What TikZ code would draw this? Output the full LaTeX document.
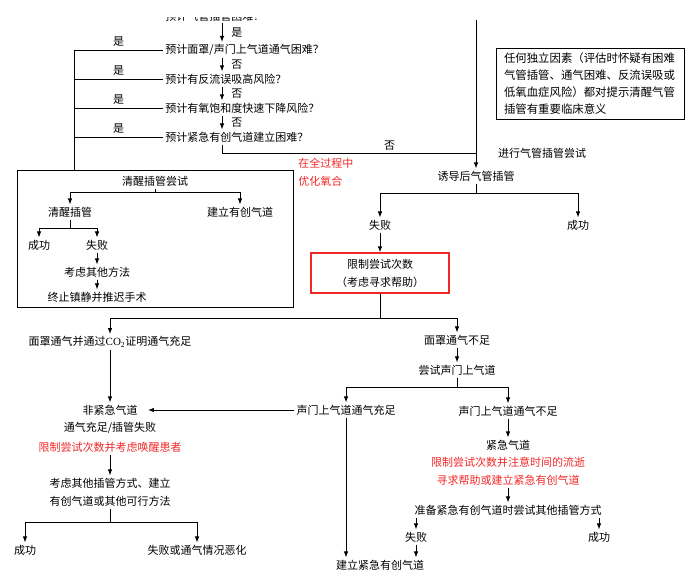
\documentclass[tikz,border=0pt]{standalone}
\usepackage{fontspec}
\setmainfont{Noto Sans CJK SC}
\newfontfamily\latinfont{Liberation Serif}
\usetikzlibrary{arrows.meta}
\definecolor{warnred}{RGB}{240,40,40}

\begin{document}
\begin{tikzpicture}[x=1pt,y=-1pt,line width=0.9pt,
		font=\fontsize{11}{18}\selectfont,
		every node/.style={inner sep=2pt},
		arr/.style={-{Latex[length=6pt,width=4.5pt]}},
		lbl/.style={right=7pt},
		redtxt/.style={text=warnred,align=center}]
		%%%%% START %%%%%
		\useasboundingbox (0,0) rectangle (700,576);
		\coordinate (a) at (222,0);
		\coordinate (L) at (74,0);
		\coordinate (T) at (476,0);
		
		\begin{scope}
			\clip (0,17) rectangle (700,576);
			\node[anchor=base west] (q0) at (163,20) {预计气管插管困难？};
		\end{scope}
		\node[anchor=west] (q1) at (163,50) {预计面罩/声门上气道通气困难？};
		\node[anchor=west] (q2) at (163,79) {预计有反流误吸高风险？};
		\node[anchor=west] (q3) at (163,108) {预计有氧饱和度快速下降风险？};
		\node[anchor=west] (q4) at (163,137) {预计紧急有创气道建立困难？};
		
		\draw[arr] (q0.south -| a) -- node[lbl]{是} (q1.north -| a);
		\draw[arr] (q1.south -| a) -- node[lbl]{否} (q2.north -| a);
		\draw[arr] (q2.south -| a) -- node[lbl]{否} (q3.north -| a);
		\draw[arr] (q3.south -| a) -- node[lbl]{否} (q4.north -| a);
		
		\draw (q1.west) -- node[above=1pt]{是} (q1.west -| L);
		\draw (q2.west) -- node[above=1pt]{是} (q2.west -| L);
		\draw (q3.west) -- node[above=1pt]{是} (q3.west -| L);
		\draw (q4.west) -- node[above=1pt]{是} (q4.west -| L);
		
		\node[draw,align=left,text width=172pt,inner xsep=8pt,inner ysep=5pt,
			font=\fontsize{11.4}{17}\selectfont] (note) at (590,84)
			{任何独立因素（评估时怀疑有困难\\气管插管、通气困难、反流误吸或\\低氧血症风险）都对提示清醒气管\\插管有重要临床意义};
		
		% awake branch
		\node[draw,minimum width=276pt,minimum height=137pt] (awb) at (155,238.5) {};
		\draw (q1.west -| L) -- (awb.north -| L);
		\node (aw) at (155,181) {清醒插管尝试};
		\node (ai) at (70,212) {清醒插管};
		\node (inv) at (240,212) {建立有创气道};
		\node (s1) at (39,245) {成功};
		\node (f1) at (97,245) {失败};
		\node (other) at (97,272) {考虑其他方法};
		\node (stop) at (97,297) {终止镇静并推迟手术};
		\draw (aw.south) -- (aw.south |- 0,192);
		\draw[arr] (aw.south |- 0,192) -| (ai.north);
		\draw[arr] (aw.south |- 0,192) -| (inv.north);
		\draw (ai.south) -- (ai.south |- 0,228);
		\draw[arr] (ai.south |- 0,228) -| (s1.north);
		\draw[arr] (ai.south |- 0,228) -| (f1.north);
		\draw[arr] (f1) -- (other);
		\draw[arr] (other) -- (stop);
		
		% induction branch
		\node (ind) at (476,176) {诱导后气管插管};
		\node (tryl) at (542,153) {进行气管插管尝试};
		\node[redtxt,align=left,anchor=west] (opt) at (296,172) {在全过程中\\优化氧合};
		\draw (q4.south -| a) |- node[pos=0.83,above]{否} (T |- 0,153);
		\draw[arr] (T |- 0,20) -- (ind.north);
		\node (fail1) at (380,225) {失败};
		\node (succ1) at (578,225) {成功};
		\draw (ind.south) -- (ind.south |- 0,193);
		\draw[arr] (ind.south |- 0,193) -| (fail1.north);
		\draw[arr] (ind.south |- 0,193) -| (succ1.north);
		\node[draw=warnred,line width=1.3pt,minimum width=138pt,minimum height=40pt,align=center] (lim) at (380,273) {限制尝试次数\\（考虑寻求帮助）};
		\draw[arr] (fail1) -- (lim);
		
		% mask ventilation
		\node (mok) at (110,342) {面罩通气并通过{\latinfont CO\textsubscript{2}}证明通气充足};
		\node (mno) at (457,340) {面罩通气不足};
		\node (sga) at (457,370) {尝试声门上气道};
		\draw (lim.south) -- (lim.south |- 0,318);
		\draw[arr] (lim.south |- 0,318) -| (mok.north);
		\draw[arr] (lim.south |- 0,318) -| (mno.north);
		\draw[arr] (mno) -- (sga);
		
		% non-emergency
		\node (nonem) at (110,410) {非紧急气道};
		\node (nok) at (110,428) {通气充足/插管失败};
		\node[redtxt] (nred) at (110,447) {限制尝试次数并考虑唤醒患者};
		\node[align=center] (alt) at (110,492) {考虑其他插管方式、建立\\有创气道或其他可行方法};
		\node (s2) at (25,550) {成功};
		\node (f2) at (197,550) {失败或通气情况恶化};
		\draw[arr] (mok) -- (nonem);
		\draw[arr] (nred) -- (alt);
		\draw (alt.south) -- (alt.south |- 0,522);
		\draw[arr] (alt.south |- 0,522) -| (s2.north);
		\draw[arr] (alt.south |- 0,522) -| (f2.north);
		
		% supraglottic airway
		\node (sok) at (346,410) {声门上气道通气充足};
		\node (sno) at (508,411) {声门上气道通气不足};
		\draw (sga.south) -- (sga.south |- 0,387);
		\draw[arr] (sga.south |- 0,387) -| (sok.north);
		\draw[arr] (sga.south |- 0,387) -| (sno.north);
		\coordinate (nt) at ([xshift=8pt]nonem.east);
		\draw[arr] (sok.west) -- (sok.west -| nt);
		
		% emergency
		\node (emg) at (508,445) {紧急气道};
		\node[redtxt] (emr) at (508,471) {限制尝试次数并注意时间的流逝\\寻求帮助或建立紧急有创气道};
		\node (prep) at (508,510) {准备紧急有创气道时尝试其他插管方式};
		\node (f3) at (416,537) {失败};
		\node (s3) at (599,537) {成功};
		\node (est) at (380,565) {建立紧急有创气道};
		\draw[arr] (sno) -- (emg);
		\draw[arr] (emr) -- (prep);
		\draw[arr] (prep.south -| f3) -- (f3.north);
		\draw[arr] (prep.south -| s3) -- (s3.north);
		\draw[arr] (f3.south) -- (f3.south |- est.north);
		\draw[arr] (sok.south) -- (sok.south |- est.north);
		%%%%% END %%%%%
\end{tikzpicture}
\end{document}
